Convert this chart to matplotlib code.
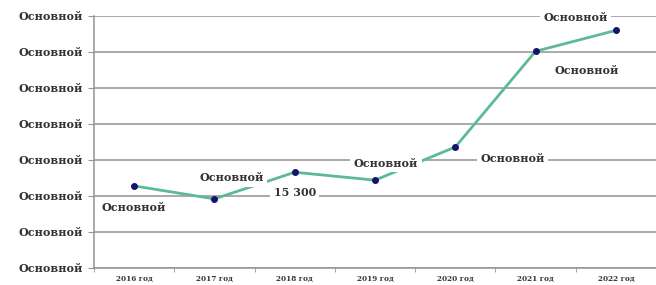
import matplotlib
matplotlib.use("Agg")
import matplotlib.pyplot as plt
import numpy as np

# данные графика
years = ["2016 год", "2017 год", "2018 год", "2019 год", "2020 год", "2021 год", "2022 год"]
values = [11400, 9600, 13300, 12200, 16800, 30100, 33000]
point_labels = ["Основной", "Основной", "15 300", "Основной", "Основной", "Основной", "Основной"]
y_ticks = [0, 5000, 10000, 15000, 20000, 25000, 30000, 35000]
y_tick_labels = ["Основной"] * len(y_ticks)

# смещения подписей (пиксели)
offsets = [(0, -22), (17, 21), (0, -20), (11, 17), (57, -11), (51, -19), (-40, 13)]

font = dict(family="DejaVu Serif", fontweight="bold")

fig = plt.figure(figsize=(6.56, 2.85), dpi=100)
ax = fig.add_axes([94 / 656, 17 / 285, 562 / 656, 252 / 285])

x = np.arange(len(years))
ax.plot(x, values, color="#5dbb94", linewidth=2, zorder=3)
ax.plot(x, values, linestyle="none", marker="o", markersize=4,
        color="#14146e", zorder=4)

for xi, v, lab, off in zip(x, values, point_labels, offsets):
    ax.annotate(lab, (xi, v), xytext=off, textcoords="offset pixels",
                ha="center", va="center", fontsize=8, color="#333333",
                bbox=dict(boxstyle="square,pad=0.3", fc="white", ec="none"),
                zorder=5, **font)

ax.set_xlim(-0.5, len(years) - 0.5)
ax.set_ylim(y_ticks[0], y_ticks[-1])
ax.set_yticks(y_ticks)
ax.set_yticklabels(y_tick_labels, fontsize=8, color="#333333", **font)
ax.set_xticks(x)
ax.set_xticklabels(years, fontsize=5.2, color="#333333", **font)
ax.set_xticks(np.arange(-0.5, len(years)), minor=True)

ax.grid(axis="y", color="#929292", linewidth=1.1, zorder=1)
ax.tick_params(axis="x", which="major", length=0, pad=5)
ax.tick_params(axis="x", which="minor", length=3, color="#929292")
ax.tick_params(axis="y", length=4, color="#929292", pad=4)

for side in ["top", "right"]:
    ax.spines[side].set_visible(False)
for side in ["left", "bottom"]:
    ax.spines[side].set_color("#929292")
    ax.spines[side].set_linewidth(1.1)

plt.savefig("out.png", dpi=100)
plt.close()
